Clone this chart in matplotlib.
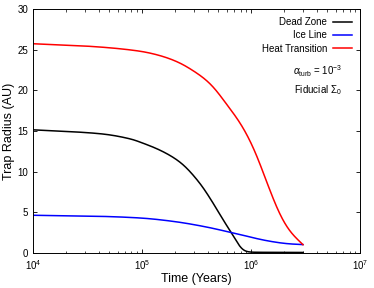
import numpy as np
import matplotlib
matplotlib.use("Agg")
import matplotlib.pyplot as plt

plt.rcParams["font.family"] = ["Liberation Sans", "DejaVu Sans"]
plt.rcParams["mathtext.fontset"] = "custom"
plt.rcParams["mathtext.rm"] = "Liberation Sans"
plt.rcParams["mathtext.it"] = "Liberation Sans:italic"

# time in years, trap radius in AU
t_dz = [1e4, 4.07e4, 8.26e4, 9.55e4, 1.46e5, 2.22e5, 3.38e5, 4.48e5, 5.53e5,
        6.61e5, 8.7e5, 1.0e6, 3.0e6]
r_dz = [15.15, 14.68, 13.95, 13.65, 12.65, 11.2, 8.6, 6.14, 4.09, 2.46, 0.2,
        0.08, 0.05]

t_ice = [1e4, 4.07e4, 9.55e4, 1.93e5, 3.89e5, 6.61e5, 7.87e5, 9.7e5, 1.48e6,
         2.25e6, 2.99e6]
r_ice = [4.63, 4.5, 4.3, 3.88, 3.19, 2.5, 2.28, 1.96, 1.43, 1.1, 1.02]

t_heat = [1e4, 3.16e4, 9.55e4, 1.46e5, 2.22e5, 3.05e5, 3.76e5, 4.65e5, 5.73e5,
          7.08e5, 8.73e5, 9.7e5, 1.08e6, 1.2e6, 1.48e6, 1.83e6, 2.25e6, 2.99e6]
r_heat = [25.75, 25.45, 24.84, 24.3, 23.4, 22.3, 21.45, 20.26, 18.6, 16.98,
          15.14, 13.9, 12.67, 11.05, 7.77, 4.7, 2.65, 1.02]


def pchip(x, y, xn):
    # monotone cubic (Fritsch-Carlson) so curves don't overshoot
    x, y = np.asarray(x, float), np.asarray(y, float)
    h = np.diff(x)
    d = np.diff(y) / h
    m = np.zeros_like(y)
    for k in range(1, len(x) - 1):
        if d[k - 1] * d[k] > 0:
            w1, w2 = 2 * h[k] + h[k - 1], h[k] + 2 * h[k - 1]
            m[k] = (w1 + w2) / (w1 / d[k - 1] + w2 / d[k])
    m[0], m[-1] = d[0], d[-1]
    i = np.clip(np.searchsorted(x, xn) - 1, 0, len(h) - 1)
    s = (xn - x[i]) / h[i]
    h00 = 2 * s**3 - 3 * s**2 + 1
    h10 = s**3 - 2 * s**2 + s
    h01 = -2 * s**3 + 3 * s**2
    h11 = s**3 - s**2
    return h00 * y[i] + h10 * h[i] * m[i] + h01 * y[i + 1] + h11 * h[i] * m[i + 1]


def smooth(t, r, sig=0.05):
    # pchip in log-time, then a light gaussian to iron out reading jitter
    lt = np.log10(t)
    x = np.linspace(lt[0], lt[-1], 800)
    y = pchip(lt, r, x)
    dx = x[1] - x[0]
    n = int(3 * sig / dx)
    k = np.exp(-0.5 * (np.arange(-n, n + 1) * dx / sig) ** 2)
    k /= k.sum()
    # linear extrapolation at the ends keeps the endpoints in place
    left = y[0] - (y[1] - y[0]) * np.arange(n, 0, -1)
    right = y[-1] + (y[-1] - y[-2]) * np.arange(1, n + 1)
    ys = np.convolve(np.r_[left, y, right], k, mode="valid")
    return 10 ** x, ys


fig, ax = plt.subplots(figsize=(3.74, 2.88), dpi=100)
fig.subplots_adjust(left=0.088, right=0.963, top=0.968, bottom=0.122)

ax.plot(*smooth(t_dz, r_dz, 0.03), color="black", lw=1.1, label="Dead Zone")
ax.plot(*smooth(t_ice, r_ice), color="blue", lw=1.1, label="Ice Line")
ax.plot(*smooth(t_heat, r_heat), color="red", lw=1.1, label="Heat Transition")

ax.set_xscale("log")
ax.set_xlim(1e4, 1e7)
ax.set_ylim(0, 30)
ax.set_yticks([0, 5, 10, 15, 20, 25, 30])
ax.tick_params(which="both", direction="in", top=True, right=True, labelsize=7)
ax.tick_params(which="major", length=3, width=0.6)
ax.tick_params(which="minor", length=1.8, width=0.5)
for s in ax.spines.values():
    s.set_linewidth(0.7)

ax.set_xlabel("Time (Years)", fontsize=9, labelpad=1)
ax.set_ylabel("Trap Radius (AU)", fontsize=9, labelpad=2)

ax.legend(loc="upper right", frameon=False, fontsize=7, markerfirst=False,
          handlelength=2.0, handletextpad=0.6, labelspacing=0.35,
          borderaxespad=0.4)
ax.text(0.945, 0.746, r"$\alpha_{\rm turb}$ = 10$^{-3}$", transform=ax.transAxes,
        ha="right", va="center", fontsize=7)
ax.text(0.945, 0.668, r"Fiducial $\Sigma_0$", transform=ax.transAxes,
        ha="right", va="center", fontsize=7)

fig.savefig("out.png", dpi=100)
